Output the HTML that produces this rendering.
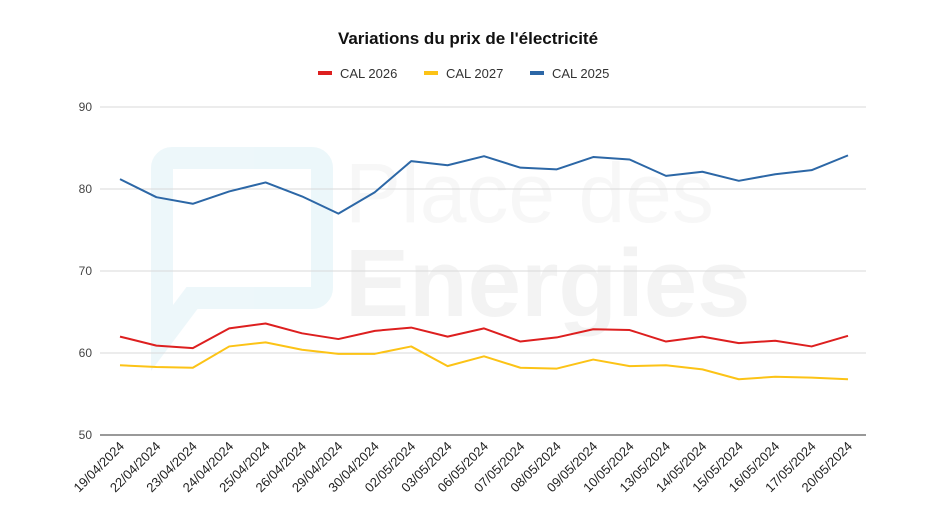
<!DOCTYPE html>
<html><head><meta charset="utf-8"><style>
body{margin:0;background:#fff;font-family:"Liberation Sans",sans-serif}
svg{display:block}
</style></head><body>
<svg id="c" width="936" height="526">
<g opacity="0.45">
<path d="M172 158 h140 a10 10 0 0 1 10 10 v120 a10 10 0 0 1 -10 10 h-120 l-30 40 v-170 a10 10 0 0 1 10 -10z" fill="none" stroke="#d6eef4" stroke-width="22"/>
<text x="345" y="222" font-size="84" fill="#eeeeee">Place des</text>
<text x="345" y="316" font-size="96" font-weight="bold" fill="#e6e6e6">Energies</text>
</g>
<text x="468" y="44" text-anchor="middle" font-size="17" font-weight="bold" fill="#111">Variations du prix de l'électricité</text>
<g id="legend"></g>
<g id="grid"></g><g id="series"></g><g id="xlab"></g>
</svg>
<script>
const dates=["19/04/2024","22/04/2024","23/04/2024","24/04/2024","25/04/2024","26/04/2024","29/04/2024","30/04/2024","02/05/2024","03/05/2024","06/05/2024","07/05/2024","08/05/2024","09/05/2024","10/05/2024","13/05/2024","14/05/2024","15/05/2024","16/05/2024","17/05/2024","20/05/2024"];
const cal2026=[62.0,60.9,60.6,63.0,63.6,62.4,61.7,62.7,63.1,62.0,63.0,61.4,61.9,62.9,62.8,61.4,62.0,61.2,61.5,60.8,62.1];
const cal2027=[58.5,58.3,58.2,60.8,61.3,60.4,59.9,59.9,60.8,58.4,59.6,58.2,58.1,59.2,58.4,58.5,58.0,56.8,57.1,57.0,56.8];
const cal2025=[81.2,79.0,78.2,79.7,80.8,79.1,77.0,79.6,83.4,82.9,84.0,82.6,82.4,83.9,83.6,81.6,82.1,81.0,81.8,82.3,84.1];
const yTicks=[50,60,70,80,90];
const NS="http://www.w3.org/2000/svg";
const x=i=>120+i*(848-120)/(dates.length-1);
const y=v=>435-(v-50)*(435-107)/40;
function mk(t,a,p){const e=document.createElementNS(NS,t);for(const k in a)e.setAttribute(k,a[k]);p.appendChild(e);return e;}
const grid=document.getElementById('grid');
yTicks.forEach(t=>{
 const l=mk('line',{x1:100,x2:866,y1:y(t),y2:y(t),stroke:t===50?'#333':'#d9d9d9','stroke-width':1},grid);
 
 
 const tx=mk('text',{x:92,y:y(t)+4,'text-anchor':'end','font-size':12,fill:'#444'},grid);
 tx.textContent=t;
 
 
});
const xl=document.getElementById('xlab');
dates.forEach((d,i)=>{
 const t=mk('text',{x:x(i)+5,y:447,'text-anchor':'end','font-size':13,fill:'#222',transform:`rotate(-45 ${x(i)+5} 447)`},xl);
 t.textContent=d;
 
 
});
const ser=[["CAL 2026",cal2026,"#dd1f1f"],["CAL 2027",cal2027,"#fcc316"],["CAL 2025",cal2025,"#2c67a6"]];
const sg=document.getElementById('series');
ser.forEach(([n,vals,c])=>{
 const p=mk('polyline',{points:vals.map((v,i)=>x(i)+','+y(v)).join(' '),fill:'none',stroke:c,'stroke-width':2,'stroke-linejoin':'round'},sg);
 
 
});
const lg=document.getElementById('legend');
const lx=[318,424,530];
ser.forEach(([n,,c],i)=>{
 const r=mk('rect',{x:lx[i],y:71,width:14,height:4,fill:c},lg);
 
 
 const t=mk('text',{x:lx[i]+22,y:78,'font-size':13,fill:'#333'},lg);
 t.textContent=n;
 
 
});
</script>
</body></html>
